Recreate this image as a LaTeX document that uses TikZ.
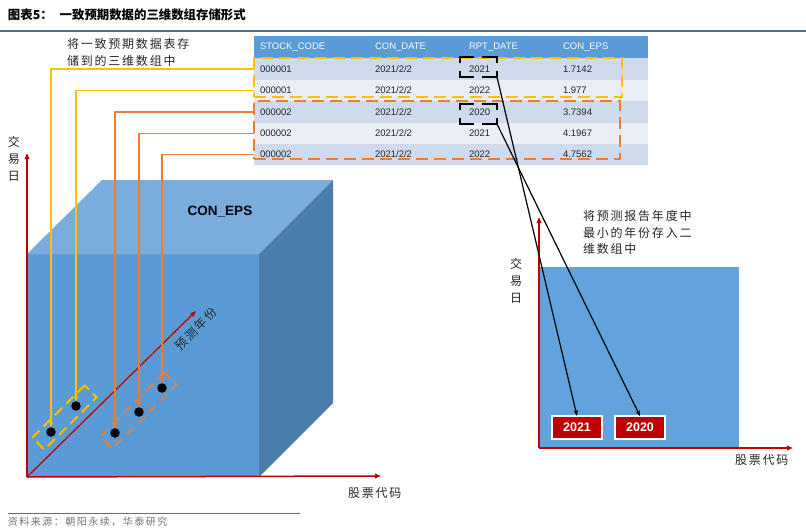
\documentclass[tikz,border=0pt]{standalone}
\usepackage{fontspec}
\setmainfont{Liberation Sans}
\newfontfamily\cjk[LetterSpace=15]{Noto Sans CJK SC}
\newfontfamily\cjkplain{Noto Sans CJK SC}
\usetikzlibrary{arrows.meta}
\definecolor{hdr}{HTML}{5B9BD5}
\definecolor{rowA}{HTML}{CFDAEC}
\definecolor{rowB}{HTML}{E9EEF7}
\definecolor{ylw}{HTML}{FFC000}
\definecolor{org}{HTML}{ED7D31}
\definecolor{axred}{HTML}{C00000}
\definecolor{frontc}{HTML}{5B9BD5}
\definecolor{topc}{HTML}{7BADDC}
\definecolor{sidec}{HTML}{4A7DAB}
\definecolor{panelc}{HTML}{62A3DD}
\definecolor{rulec}{HTML}{4F6E9C}
\begin{document}
\begin{tikzpicture}[x=1pt,y=-1pt,
  every node/.style={inner sep=0pt, outer sep=0pt},
  tb/.style={font=\fontsize{9.5}{11}\selectfont, anchor=west, text=black!85},
  th/.style={font=\fontsize{9.5}{11}\selectfont, anchor=west, text=white},
  rowbox/.style={anchor=north west, minimum width=394pt, minimum height=#1},
  grpbox/.style={draw=#1, line width=2pt, dash pattern=on 12pt off 6pt, anchor=north west},
  brk/.style={draw=black, line width=2pt},
  feed/.style={draw=#1, line width=1.5pt, -{Stealth[length=5pt,width=4pt]}},
  dotn/.style={circle, fill=black, minimum size=9.5pt},
  diagbox/.style={draw=#1, line width=2pt, dash pattern=on 10pt off 6pt, rotate=45, minimum height=17pt},
  axis/.style={draw=axred, line width=1.5pt, -{Triangle[length=6pt,width=4.5pt]}},
  cn/.style={font=\cjk\fontsize{12}{17}\selectfont, text=black!85},
  valbox/.style={fill=axred, draw=white, line width=1.5pt, minimum width=50pt, minimum height=23pt, text=white, font=\bfseries\fontsize{12.5}{14}\selectfont},
  pick/.style={draw=black, line width=1.2pt, -{Stealth[length=6pt,width=4.5pt]}}
]
\path[use as bounding box] (0,0) rectangle (806,530);
\fill[white] (0,0) rectangle (806,530);

% title
\node[anchor=west, font=\cjkplain\bfseries\fontsize{12.4}{14}\selectfont] (title) at (8,15) {图表5：\hspace{7pt}一致预期数据的三维数组存储形式};
\draw[rulec, line width=1.5pt] (0,31) -- (806,31);

% footer
\draw[rulec, line width=1pt] (8,513) -- (300,513);
\node[anchor=west, text=black!55, font=\cjk\fontsize{10}{12}\selectfont] (src) at (8,522) {资料来源：朝阳永续，华泰研究};

% table
\node[rowbox=22pt, fill=hdr] (hd) at (254,36) {};
\node[rowbox=22pt, fill=rowA] (r1) at (254,58) {};
\node[rowbox=21pt, fill=rowB] (r2) at (254,80) {};
\node[rowbox=22pt, fill=rowA] (r3) at (254,101) {};
\node[rowbox=21pt, fill=rowB] (r4) at (254,123) {};
\node[rowbox=21pt, fill=rowA] (r5) at (254,144) {};

\node[th] (h1) at (260,47) {STOCK\_CODE};
\node[th] (h2) at (375,47) {CON\_DATE};
\node[th] (h3) at (469,47) {RPT\_DATE};
\node[th] (h4) at (563,47) {CON\_EPS};

\node[tb] (a1) at (260,69) {000001};
\node[tb] (b1t) at (375,69) {2021/2/2};
\node[tb] (c1) at (469,69) {2021};
\node[tb] (e1) at (563,69) {1.7142};

\node[tb] (a2) at (260,90.5) {000001};
\node[tb] (b2t) at (375,90.5) {2021/2/2};
\node[tb] (c2) at (469,90.5) {2022};
\node[tb] (e2) at (563,90.5) {1.977};

\node[tb] (a3) at (260,112) {000002};
\node[tb] (b3t) at (375,112) {2021/2/2};
\node[tb] (c3) at (469,112) {2020};
\node[tb] (e3) at (563,112) {3.7394};

\node[tb] (a4) at (260,133.5) {000002};
\node[tb] (b4t) at (375,133.5) {2021/2/2};
\node[tb] (c4) at (469,133.5) {2021};
\node[tb] (e4) at (563,133.5) {4.1967};

\node[tb] (a5) at (260,154.5) {000002};
\node[tb] (b5t) at (375,154.5) {2021/2/2};
\node[tb] (c5) at (469,154.5) {2022};
\node[tb] (e5) at (563,154.5) {4.7562};

% group boxes
\node[grpbox=ylw, minimum width=368pt, minimum height=39pt] (yg) at (254,58) {};
\node[grpbox=org, minimum width=366pt, minimum height=58pt] (og) at (254,101) {};

% bracket boxes
\node[anchor=north west, minimum width=37pt, minimum height=20pt] (k1) at (460,57) {};
\node[anchor=north west, minimum width=37pt, minimum height=20pt] (k2) at (460,104) {};
\foreach \b in {k1,k2} {
  \draw[brk] ([yshift=-6pt]\b.north west) -- (\b.north west) -- ([xshift=14pt]\b.north west);
  \draw[brk] ([xshift=-15pt]\b.north east) -- (\b.north east) -- ([yshift=-6pt]\b.north east);
  \draw[brk] ([yshift=6pt]\b.south east) -- (\b.south east) -- ([xshift=-15pt]\b.south east);
  \draw[brk] ([xshift=14pt]\b.south west) -- (\b.south west) -- ([yshift=6pt]\b.south west);
}

% left notes
\node[cn, anchor=base west] (n1a) at (67,48.6) {将一致预期数据表存};
\node[cn, anchor=base west] (n1b) at (67,65.6) {储到的三维数组中};

% cube
\fill[frontc] (27,254) rectangle (259,477);
\fill[topc] (27,254) -- (102,180) -- (333,180) -- (259,254) -- cycle;
\fill[sidec] (259,254) -- (333,180) -- (333,403) -- (259,477) -- cycle;
\node[font=\bfseries\fontsize{13.5}{15}\selectfont] (eps) at (220,212) {CON\_EPS};

% axes left
\coordinate (o) at (27,477);
\coordinate (ytip) at (27,153);
\coordinate (xtip) at (381,476);
\coordinate (ztip) at (196,311);
\draw[axis] (o) -- (ytip);
\draw[axis] (o) -- (xtip);
\draw[axis, line width=1.3pt] (o) -- (ztip);
\node[cn, align=center] (jy1) at (14,159) {交\\易\\日};
\node[cn, anchor=west] (gp1) at (348,493) {股票代码};
\node[cn, rotate=45] (ycnf) at (196,329) {预测年份};

% dot groups
\node[diagbox=ylw, minimum width=74pt] (yd) at (64.5,417.5) {};
\node[diagbox=org, minimum width=91pt] (od) at (138.5,410.5) {};

% dots
\node[dotn] (d1) at (51,432) {};
\node[dotn] (d2) at (76,406) {};
\node[dotn] (d3) at (115,433) {};
\node[dotn] (d4) at (139,412) {};
\node[dotn] (d5) at (162,388) {};

% connectors
\draw[feed=ylw] (r1.west) -| (d1.north);
\draw[feed=ylw] (r2.west) -| (d2.north);
\draw[feed=org] (r3.west) -| (d3.north);
\draw[feed=org] (r4.west) -| (d4.north);
\draw[feed=org] (r5.west) -| (d5.north);

% right panel
\fill[panelc] (540,267) rectangle (739,447);
\coordinate (o2) at (539,448);
\coordinate (y2tip) at (539,217);
\coordinate (x2tip) at (793,448);
\draw[axis] (o2) -- (y2tip);
\draw[axis] (o2) -- (x2tip);
\node[cn, align=center] (jy2) at (516,281) {交\\易\\日};
\node[cn, anchor=west] (gp2) at (735,460) {股票代码};
\node[cn, anchor=base west] (n2a) at (583,220.6) {将预测报告年度中};
\node[cn, anchor=base west] (n2b) at (583,237.6) {最小的年份存入二};
\node[cn, anchor=base west] (n2c) at (583,253.6) {维数组中};

\node[valbox] (v1) at (577,427.5) {2021};
\node[valbox] (v2) at (640,427.5) {2020};

\draw[pick] (k1.south east) -- (v1.north);
\draw[pick] (k2.south east) -- (v2.north);
\end{tikzpicture}
\end{document}
